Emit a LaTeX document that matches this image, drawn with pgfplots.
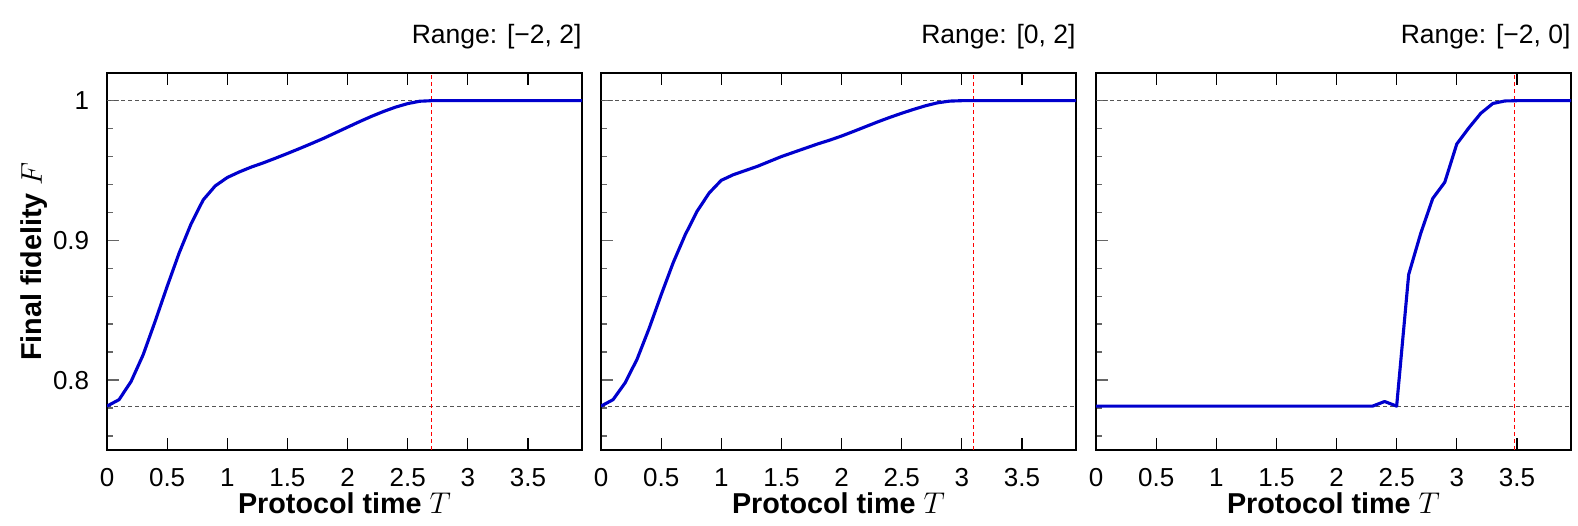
\documentclass[border=0pt]{standalone}
\usepackage{fontspec}
\setmainfont{Liberation Sans}
\usepackage{pgfplots}
\usepackage{pgfplotstable}
\pgfplotsset{compat=1.18}
\definecolor{CurveBlue}{HTML}{0000CD}
\definecolor{RefGray}{HTML}{555555}

\pgfplotstableread{
T F
0.0 0.7814
0.1 0.786
0.2 0.799
0.3 0.818
0.4 0.842
0.5 0.867
0.6 0.891
0.7 0.912
0.8 0.929
0.9 0.939
1.0 0.945
1.1 0.949
1.2 0.9525
1.3 0.9555
1.4 0.9588
1.5 0.9622
1.6 0.9657
1.7 0.9693
1.8 0.973
1.9 0.977
2.0 0.981
2.1 0.985
2.2 0.9888
2.3 0.9923
2.4 0.9954
2.5 0.9979
2.6 0.9996
2.7 1.0
2.8 1.0
2.9 1.0
3.0 1.0
3.1 1.0
3.2 1.0
3.3 1.0
3.4 1.0
3.5 1.0
3.6 1.0
3.7 1.0
3.8 1.0
3.9 1.0
4.0 1.0
}\datafull

\pgfplotstableread{
T F
0.0 0.7814
0.1 0.786
0.2 0.798
0.3 0.815
0.4 0.837
0.5 0.861
0.6 0.884
0.7 0.904
0.8 0.921
0.9 0.934
1.0 0.943
1.1 0.947
1.2 0.950
1.3 0.953
1.4 0.9565
1.5 0.960
1.6 0.963
1.7 0.966
1.8 0.969
1.9 0.9717
2.0 0.9747
2.1 0.978
2.2 0.9814
2.3 0.9848
2.4 0.988
2.5 0.991
2.6 0.9938
2.7 0.9964
2.8 0.9985
2.9 0.9997
3.0 1.0
3.1 1.0
3.2 1.0
3.3 1.0
3.4 1.0
3.5 1.0
3.6 1.0
3.7 1.0
3.8 1.0
3.9 1.0
4.0 1.0
}\datapos

\pgfplotstableread{
T F
0.0 0.7814
0.5 0.7814
1.0 0.7814
1.5 0.7814
2.0 0.7814
2.3 0.7814
2.4 0.7847
2.5 0.7814
2.6 0.8756
2.7 0.905
2.8 0.930
2.9 0.9416
3.0 0.969
3.1 0.9805
3.2 0.991
3.3 0.998
3.4 0.9998
3.5 1.0
3.6 1.0
3.7 1.0
3.8 1.0
3.9 1.0
4.0 1.0
}\dataneg

\pgfplotsset{
  panel/.style={
    scale only axis, width=190pt, height=150.9pt,
    anchor=south west, clip mode=individual,
    xmin=0, xmax=3.95, ymin=0.75, ymax=1.02,
    xtick={0,0.5,...,3.5}, ytick={0.8,0.9,1},
    minor ytick={0.76,0.78,...,1.01},
    tick align=inside, xtick pos=both, ytick pos=left,
    major tick length=4.8pt, minor tick length=2.4pt,
    x tick style={black, line width=0.5pt},
    y tick style={black!60, line width=0.6pt},
    axis line style={line width=0.75pt},
    /pgf/number format/assume math mode=true,
    tick label style={font=\fontsize{10.4}{12}\selectfont},
    xticklabel shift=4pt, yticklabel shift=3.6pt,
  },
}
\tikzset{
  refline/.style={RefGray, line width=0.45pt, dash pattern=on 1.6pt off 1.2pt},
  tline/.style={red, line width=0.55pt, dash pattern=on 1.6pt off 1.2pt},
  curve/.style={CurveBlue, line width=1.25pt, line join=round},
  lab/.style={inner sep=0pt, font=\fontsize{11.5}{13}\selectfont\bfseries},
  ttl/.style={anchor=base east, inner sep=0pt, font=\fontsize{10.6}{12}\selectfont},
}

\begin{document}
\begin{tikzpicture}
\useasboundingbox (0,0) rectangle (631.2pt,210.4pt);

% panel 1: range [-2, 2]
\begin{axis}[panel, at={(42.8pt,30.4pt)}]
\addplot[refline] coordinates {(0,1) (4,1)};
\addplot[refline] coordinates {(0,0.7814) (4,0.7814)};
\addplot[tline] coordinates {(2.7,0.75) (2.7,1.02)};
\addplot[curve] table[x=T,y=F] {\datafull};
\node[ttl] at (rel axis cs:1,1) [yshift=11.8pt] {Range: [−2, 2]};
\node[lab, anchor=base] at (rel axis cs:0.5,0) [yshift=-25.6pt] {Protocol time \mdseries$T$};
\node[lab, anchor=base, rotate=90] at (rel axis cs:0,0.5) [yshift=26.1pt] {Final fidelity \mdseries$F$};
\end{axis}

% panel 2: range [0, 2]
\begin{axis}[panel, at={(240.4pt,30.4pt)}, yticklabels={}]
\addplot[refline] coordinates {(0,1) (4,1)};
\addplot[refline] coordinates {(0,0.7814) (4,0.7814)};
\addplot[tline] coordinates {(3.1,0.75) (3.1,1.02)};
\addplot[curve] table[x=T,y=F] {\datapos};
\node[ttl] at (rel axis cs:1,1) [yshift=11.8pt] {Range: [0, 2]};
\node[lab, anchor=base] at (rel axis cs:0.5,0) [yshift=-25.6pt] {Protocol time \mdseries$T$};
\end{axis}

% panel 3: range [-2, 0]
\begin{axis}[panel, at={(438.4pt,30.4pt)}, yticklabels={}]
\addplot[refline] coordinates {(0,1) (4,1)};
\addplot[refline] coordinates {(0,0.7814) (4,0.7814)};
\addplot[tline] coordinates {(3.48,0.75) (3.48,1.02)};
\addplot[curve] table[x=T,y=F] {\dataneg};
\node[ttl] at (rel axis cs:1,1) [yshift=11.8pt] {Range: [−2, 0]};
\node[lab, anchor=base] at (rel axis cs:0.5,0) [yshift=-25.6pt] {Protocol time \mdseries$T$};
\end{axis}
\end{tikzpicture}
\end{document}
